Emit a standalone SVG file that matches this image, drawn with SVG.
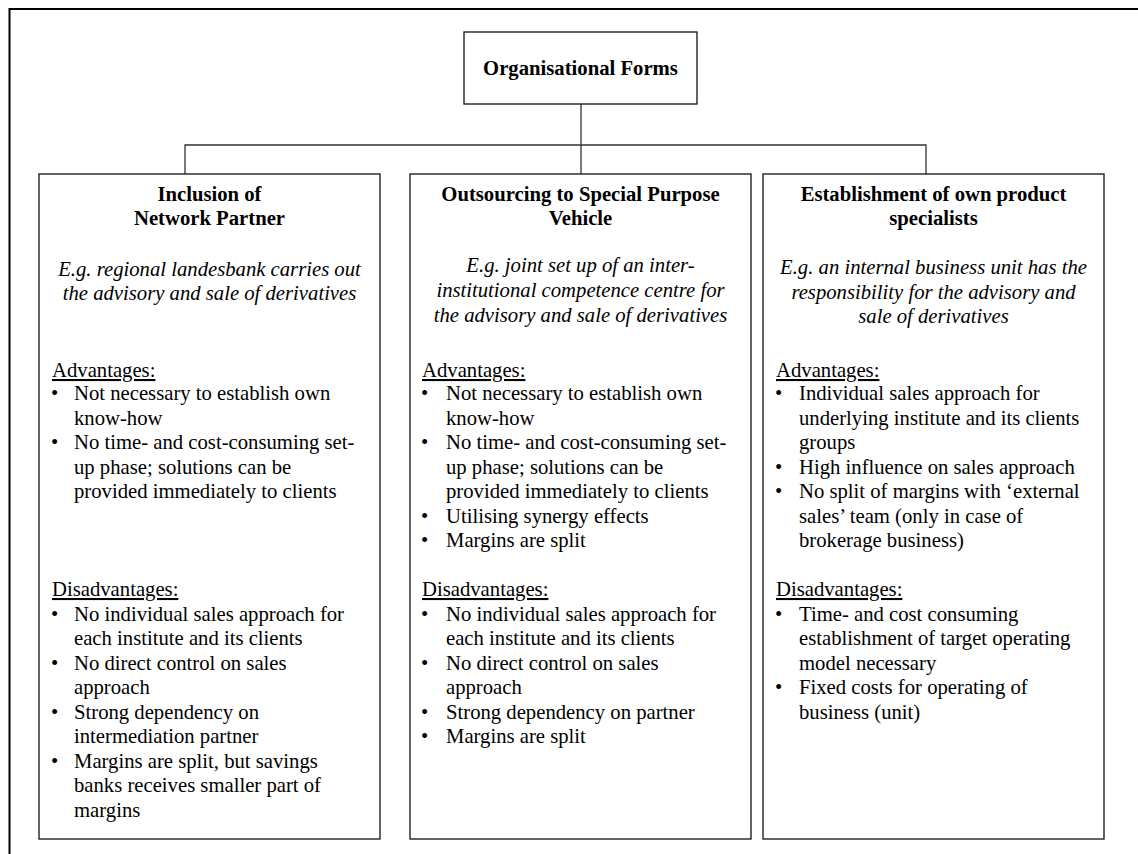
<svg xmlns="http://www.w3.org/2000/svg" width="1138" height="854" viewBox="0 0 1138 854">
<style>
text{font-family:"Liberation Serif","Times New Roman",serif;font-size:20.7px;fill:#000}
.b{font-weight:bold}
.i{font-style:italic}
.c{text-anchor:middle}
.u{text-decoration:underline}
.box{fill:#fff;stroke:#222;stroke-width:1.4}
.con{fill:none;stroke:#333;stroke-width:1.3}
</style>
<rect x="0" y="0" width="1138" height="854" fill="#fff"/>
<rect x="9.5" y="9" width="1200" height="900" fill="none" stroke="#000" stroke-width="2"/>
<g id="connectors">
<path class="con" d="M581 104V174M185 174V145H926V174"/>
</g>
<g id="title">
<rect class="box" x="464" y="32" width="233" height="72"/>
<text class="b c" x="580.5" y="75">Organisational Forms</text>
</g>
<g id="network-partner">
<rect class="box" x="39" y="174" width="341" height="665"/>
<text class="b c"><tspan x="209.5" y="201">Inclusion of</tspan><tspan x="209.5" y="225">Network Partner</tspan></text>
<text class="i c"><tspan x="209.5" y="276">E.g. regional landesbank carries out</tspan><tspan x="209.5" y="300">the advisory and sale of derivatives</tspan></text>
<text class="u" x="52" y="377">Advantages:</text>
<text><tspan x="51" y="400">•</tspan><tspan x="51" y="449">•</tspan><tspan x="51" y="620.5">•</tspan><tspan x="51" y="669.5">•</tspan><tspan x="51" y="718.5">•</tspan><tspan x="51" y="767.5">•</tspan></text>
<text><tspan x="74" y="400">Not necessary to establish own</tspan><tspan x="74" y="424.5">know-how</tspan><tspan x="74" y="449">No time- and cost-consuming set-</tspan><tspan x="74" y="473.5">up phase; solutions can be</tspan><tspan x="74" y="498">provided immediately to clients</tspan></text>
<text class="u" x="52" y="596">Disadvantages:</text>
<text><tspan x="74" y="620.5">No individual sales approach for</tspan><tspan x="74" y="645">each institute and its clients</tspan><tspan x="74" y="669.5">No direct control on sales</tspan><tspan x="74" y="694">approach</tspan><tspan x="74" y="718.5">Strong dependency on</tspan><tspan x="74" y="743">intermediation partner</tspan><tspan x="74" y="767.5">Margins are split, but savings</tspan><tspan x="74" y="792">banks receives smaller part of</tspan><tspan x="74" y="816.5">margins</tspan></text>
</g>
<g id="special-purpose-vehicle">
<rect class="box" x="410" y="174" width="341" height="665"/>
<text class="b c"><tspan x="580.5" y="201">Outsourcing to Special Purpose</tspan><tspan x="580.5" y="225">Vehicle</tspan></text>
<text class="i c"><tspan x="580.5" y="272">E.g. joint set up of an inter-</tspan><tspan x="580.5" y="297">institutional competence centre for</tspan><tspan x="580.5" y="322">the advisory and sale of derivatives</tspan></text>
<text class="u" x="422" y="377">Advantages:</text>
<text><tspan x="421" y="400">•</tspan><tspan x="421" y="449">•</tspan><tspan x="421" y="522.5">•</tspan><tspan x="421" y="547">•</tspan><tspan x="421" y="620.5">•</tspan><tspan x="421" y="669.5">•</tspan><tspan x="421" y="718.5">•</tspan><tspan x="421" y="743">•</tspan></text>
<text><tspan x="446" y="400">Not necessary to establish own</tspan><tspan x="446" y="424.5">know-how</tspan><tspan x="446" y="449">No time- and cost-consuming set-</tspan><tspan x="446" y="473.5">up phase; solutions can be</tspan><tspan x="446" y="498">provided immediately to clients</tspan><tspan x="446" y="522.5">Utilising synergy effects</tspan><tspan x="446" y="547">Margins are split</tspan></text>
<text class="u" x="422" y="596">Disadvantages:</text>
<text><tspan x="446" y="620.5">No individual sales approach for</tspan><tspan x="446" y="645">each institute and its clients</tspan><tspan x="446" y="669.5">No direct control on sales</tspan><tspan x="446" y="694">approach</tspan><tspan x="446" y="718.5">Strong dependency on partner</tspan><tspan x="446" y="743">Margins are split</tspan></text>
</g>
<g id="own-product-specialists">
<rect class="box" x="763" y="174" width="341" height="665"/>
<text class="b c"><tspan x="933.5" y="201">Establishment of own product</tspan><tspan x="933.5" y="225">specialists</tspan></text>
<text class="i c"><tspan x="933.5" y="274">E.g. an internal business unit has the</tspan><tspan x="933.5" y="298.5">responsibility for the advisory and</tspan><tspan x="933.5" y="323">sale of derivatives</tspan></text>
<text class="u" x="776" y="377">Advantages:</text>
<text><tspan x="775" y="400">•</tspan><tspan x="775" y="473.5">•</tspan><tspan x="775" y="498">•</tspan><tspan x="775" y="620.5">•</tspan><tspan x="775" y="694">•</tspan></text>
<text><tspan x="799" y="400">Individual sales approach for</tspan><tspan x="799" y="424.5">underlying institute and its clients</tspan><tspan x="799" y="449">groups</tspan><tspan x="799" y="473.5">High influence on sales approach</tspan><tspan x="799" y="498">No split of margins with ‘external</tspan><tspan x="799" y="522.5">sales’ team (only in case of</tspan><tspan x="799" y="547">brokerage business)</tspan></text>
<text class="u" x="776" y="596">Disadvantages:</text>
<text><tspan x="799" y="620.5">Time- and cost consuming</tspan><tspan x="799" y="645">establishment of target operating</tspan><tspan x="799" y="669.5">model necessary</tspan><tspan x="799" y="694">Fixed costs for operating of</tspan><tspan x="799" y="718.5">business (unit)</tspan></text>
</g>
</svg>
